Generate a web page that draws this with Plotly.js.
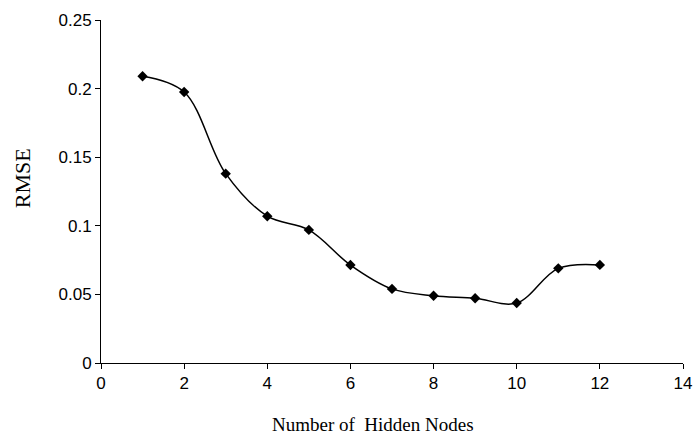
<!DOCTYPE html>
<html>
<head>
<meta charset="utf-8">
<script src="https://cdn.plot.ly/plotly-3.0.1.min.js"></script>
<style>html,body{margin:0;padding:0;background:#fff;}#chart{width:695px;height:434px;}</style>
</head>
<body>
<div id="chart"></div>
<script>
const hiddenNodes = [1, 2, 3, 4, 5, 6, 7, 8, 9, 10, 11, 12];
const rmse = [0.209, 0.1975, 0.138, 0.107, 0.097, 0.0714, 0.054, 0.049, 0.0472, 0.0437, 0.069, 0.0715];
const xTicks = [0, 2, 4, 6, 8, 10, 12, 14];
const yTicks = [0, 0.05, 0.1, 0.15, 0.2, 0.25];
const yTickLabels = ['0', '0.05', '0.1', '0.15', '0.2', '0.25'];
const xTitle = 'Number of  Hidden Nodes';
const yTitle = 'RMSE';

const serif = 'Liberation Serif, Times New Roman, serif';

Plotly.newPlot('chart', [{
  x: hiddenNodes,
  y: rmse,
  type: 'scatter',
  mode: 'lines+markers',
  line: {color: '#000', width: 1.5, shape: 'spline', smoothing: 1},
  marker: {symbol: 'diamond', size: 8, color: '#000'},
  showlegend: false,
  hoverinfo: 'skip'
}], {
  width: 695, height: 434,
  margin: {l: 101, r: 12, t: 20, b: 71},
  paper_bgcolor: '#fff', plot_bgcolor: '#fff',
  font: {family: 'Liberation Sans, Arial, sans-serif', size: 14, color: '#000'},
  xaxis: {
    range: [0, 14], tickvals: xTicks, ticktext: xTicks.map(String),
    showgrid: false, zeroline: false, showline: true, linecolor: '#000', linewidth: 1,
    ticks: 'outside', ticklen: 5, tickcolor: '#000', tickfont: {size: 17}
  },
  yaxis: {
    range: [0, 0.25], tickvals: yTicks, ticktext: yTickLabels,
    showgrid: false, zeroline: false, showline: true, linecolor: '#000', linewidth: 1,
    ticks: 'outside', ticklen: 5, tickcolor: '#000', tickfont: {size: 17}
  },
  annotations: [
    {text: xTitle, xref: 'paper', yref: 'paper', x: 0.468, y: -0.178,
     xanchor: 'center', yanchor: 'middle', showarrow: false,
     font: {family: serif, size: 19, color: '#000'}},
    {text: yTitle, xref: 'paper', yref: 'paper', x: -0.1357, y: 0.539,
     xanchor: 'center', yanchor: 'middle', showarrow: false, textangle: -90,
     font: {family: serif, size: 22, color: '#000'}}
  ]
}, {displayModeBar: false, staticPlot: true});
</script>
</body>
</html>
